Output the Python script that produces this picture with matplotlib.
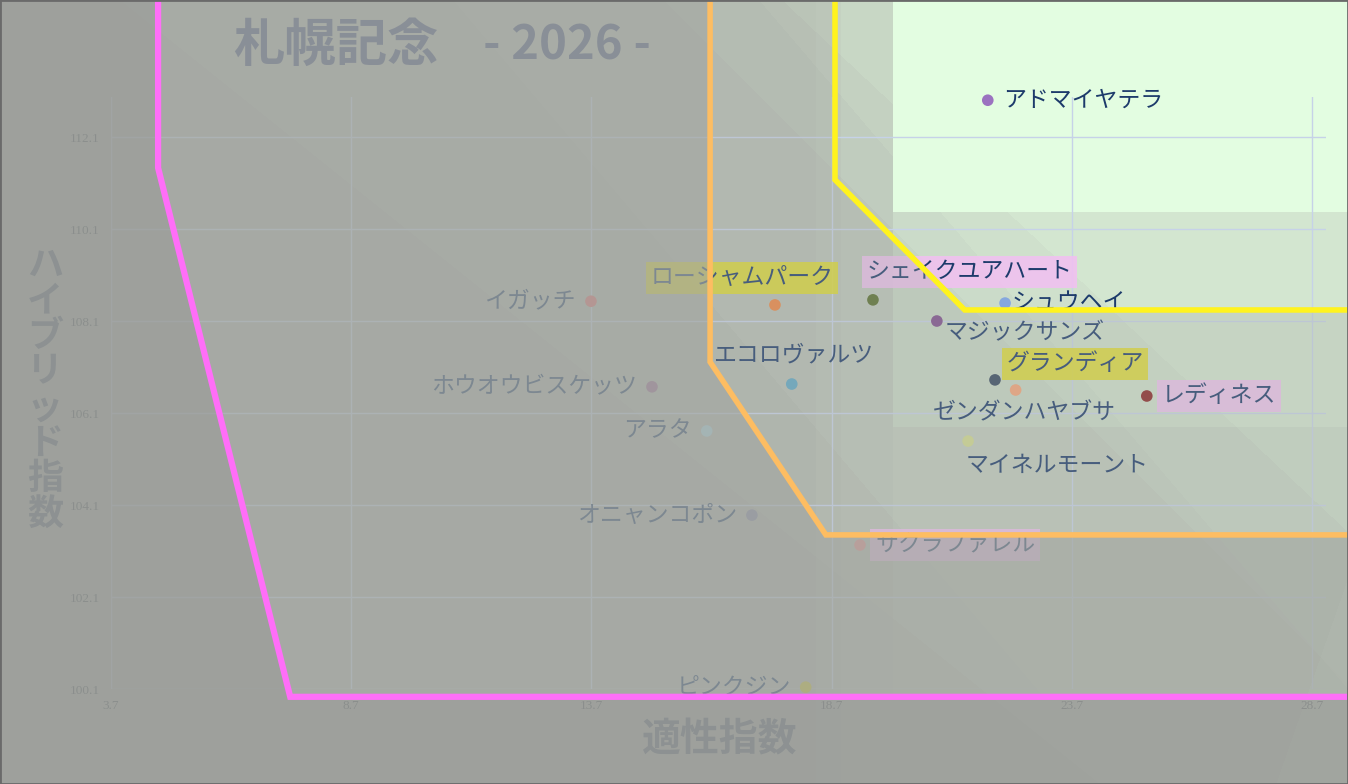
import numpy as np
import matplotlib
matplotlib.use('Agg')
import matplotlib.pyplot as plt
from matplotlib.patches import Polygon

plt.rcParams['font.family'] = ['Noto Sans CJK JP', 'DejaVu Sans']

# 馬名, 適性指数, ハイブリッド指数
names = ['アドマイヤテラ', 'イガッチ', 'ローシャムパーク', 'シェイクユアハート', 'シュウヘイ',
         'マジックサンズ', 'エコロヴァルツ', 'ホウオウビスケッツ', 'アラタ', 'グランディア',
         'ゼンダンハヤブサ', 'レディネス', 'マイネルモーント', 'オニャンコポン', 'サクラファレル',
         'ピンクジン']
tekisei = [21.95, 13.69, 17.52, 19.56, 22.31, 20.89, 17.87, 14.96, 16.10, 22.10,
           22.53, 25.26, 21.54, 17.04, 19.29, 18.16]
hybrid = [112.90, 108.53, 108.45, 108.56, 108.49, 108.10, 106.73, 106.67, 105.71, 106.82,
          106.60, 106.47, 105.49, 103.88, 103.23, 100.14]
marker_colors = ['#9b72c0', '#e07070', '#ee8440', '#566d2c', '#86a8de', '#7e4c8c', '#5fa6c4',
                 '#9a6c94', '#a8d8e8', '#34465e', '#f5a478', '#8a2424', '#d0d890', '#8488a8',
                 '#f09090', '#c8c030']
yellow_marked = ['ローシャムパーク', 'グランディア']
pink_marked = ['シェイクユアハート', 'レディネス', 'サクラファレル']

x_ticks = [3.7, 8.7, 13.7, 18.7, 23.7, 28.7]
y_ticks = [100.1, 102.1, 104.1, 106.1, 108.1, 110.1, 112.1]

# ゾーン境界線 (適性指数, ハイブリッド指数)
zone_magenta = [(4.68, 116.0), (4.68, 111.43), (7.43, 99.93), (31.0, 99.93)]
zone_orange = [(16.17, 116.0), (16.17, 107.21), (18.58, 103.45), (31.0, 103.45)]
zone_yellow = [(18.77, 116.0), (18.77, 111.17), (21.47, 108.34), (31.0, 108.34)]

# ラベル位置 (ピクセルオフセット, 揃え)
label_pos = {
    'アドマイヤテラ': (15, 0, 'left'), 'イガッチ': (-15, 0, 'right'),
    'ローシャムパーク': (-33, 27, 'center'), 'シェイクユアハート': (97, 28, 'center'),
    'シュウヘイ': (6, 0, 'left'), 'マジックサンズ': (8, -12, 'left'),
    'エコロヴァルツ': (1, 29, 'center'), 'ホウオウビスケッツ': (-15, 0, 'right'),
    'アラタ': (-15, 0, 'right'), 'グランディア': (80, 16, 'center'),
    'ゼンダンハヤブサ': (9, -23, 'center'), 'レディネス': (15, 0, 'left'),
    'マイネルモーント': (-2, -24, 'left'), 'オニャンコポン': (-15, 0, 'right'),
    'サクラファレル': (15, 0, 'left'), 'ピンクジン': (-15, 0, 'right'),
}

W, H = 1348, 784
fig = plt.figure(figsize=(W / 100, H / 100), dpi=100)

# 背景 (斜めのグラデーション帯)
yy, xx = np.mgrid[0:H, 0:W].astype(float)
t = np.zeros((H, W))
for x0, y0, w in [(815, H, 0.06), (840, H, 0.06), (892, H, 0.06), (892, 427, 0.15), (892, 212, 0.5)]:
    t += w * ((xx > x0) & (yy < y0))
for px0, m, w in [(120, 0.8, 0.07), (453, 1.18, 0.07), (663, 1.0, 0.07), (759, 1.17, 0.07), (782, 0.94, 0.08)]:
    t += w * (xx > px0 + yy / m)
t += 0.12 * (xx + 0.35 * yy > 1550)
t = np.clip(t, 0, 1)[..., None]
c0 = np.array([176, 180, 173]) / 255
c1 = np.array([227, 253, 225]) / 255
bg = (1 - t) * c0 + t * c1
ax_bg = fig.add_axes([0, 0, 1, 1], zorder=-1)
ax_bg.imshow(bg, aspect='auto', interpolation='nearest')
ax_bg.axis('off')

ax = fig.add_axes([111 / W, 1 - 689 / H, (1326 - 111) / W, (689 - 97) / H])
ax.set_facecolor('none')
ax.set_xlim(3.7, 28.99)
ax.set_ylim(100.1, 112.97)
ax.set_xticks(x_ticks)
ax.set_yticks(y_ticks)
ax.set_xticklabels([str(v) for v in x_ticks], family='Liberation Serif', fontsize=9.5, color='#1a2430')
ax.set_yticklabels([str(v) for v in y_ticks], family='Liberation Serif', fontsize=9.5, color='#1a2430')
ax.tick_params(axis='x', length=0, pad=8)
ax.tick_params(axis='y', length=0, pad=8)
for s in ax.spines.values():
    s.set_visible(False)
ax.grid(color='#c6d2e8', lw=1)
ax.set_axisbelow(True)

ax.scatter(tekisei, hybrid, s=70, c=marker_colors, zorder=3, edgecolors='none', clip_on=False)
for n, xv, yv in zip(names, tekisei, hybrid):
    dx, dy, ha = label_pos[n]
    box = None
    if n in yellow_marked:
        box = dict(boxstyle='square,pad=0.2', fc='#e2dc26', ec='none', alpha=0.85)
    elif n in pink_marked:
        box = dict(boxstyle='square,pad=0.2', fc='#f2bff2', ec='none', alpha=0.85)
    ax.annotate(n, (xv, yv), xytext=(dx, dy), textcoords='offset pixels', ha=ha, va='center',
                fontsize=16.5, color='#1d3b6b', bbox=box, zorder=4)

ax.text(233 / W, 1 - 45 / H, '札幌記念', transform=fig.transFigure, fontsize=37,
        fontweight='bold', color='#4a5680', ha='left', va='center', zorder=4)
ax.text(483 / W, 1 - 45 / H, '- 2026 -', transform=fig.transFigure, fontsize=34,
        fontweight='bold', color='#4a5680', ha='left', va='center', zorder=4)
ax.text(720 / W, 1 - 740 / H, '適性指数', transform=fig.transFigure, fontsize=28,
        fontweight='bold', color='#2a3a5a', ha='center', va='center', zorder=4)
ax.text(45 / W, 1 - 390 / H, '\n'.join('ハイブリッド指数'), transform=fig.transFigure, fontsize=26,
        fontweight='bold', color='#2a3a5a', ha='center', va='center', linespacing=0.95, zorder=4)

# ゾーン外を暗くする
def outside(poly):
    return [(-5, 116.0)] + poly + [(31.0, 95.0), (-5, 95.0)]

for poly, fc, a, z in [(zone_yellow, '#a9ada7', 0.3, 10), (zone_orange, '#a2a5a0', 0.6, 11),
                       (zone_magenta, '#989a97', 0.55, 12)]:
    ax.add_patch(Polygon(outside(poly), closed=True, fc=fc, ec='none', alpha=a, zorder=z, clip_on=False))

for poly, col, lw in [(zone_magenta, '#ff6ef8', 4.5), (zone_orange, '#fdbd62', 4), (zone_yellow, '#fff31e', 4)]:
    px, py = zip(*poly)
    ax.plot(px, py, color=col, lw=lw, zorder=20, clip_on=False, solid_joinstyle='miter')

fig.add_artist(plt.Rectangle((0, 0), 1, 1, transform=fig.transFigure, fill=False, ec='#6a6a6a', lw=2, zorder=30))

plt.savefig('out.png', dpi=100)
